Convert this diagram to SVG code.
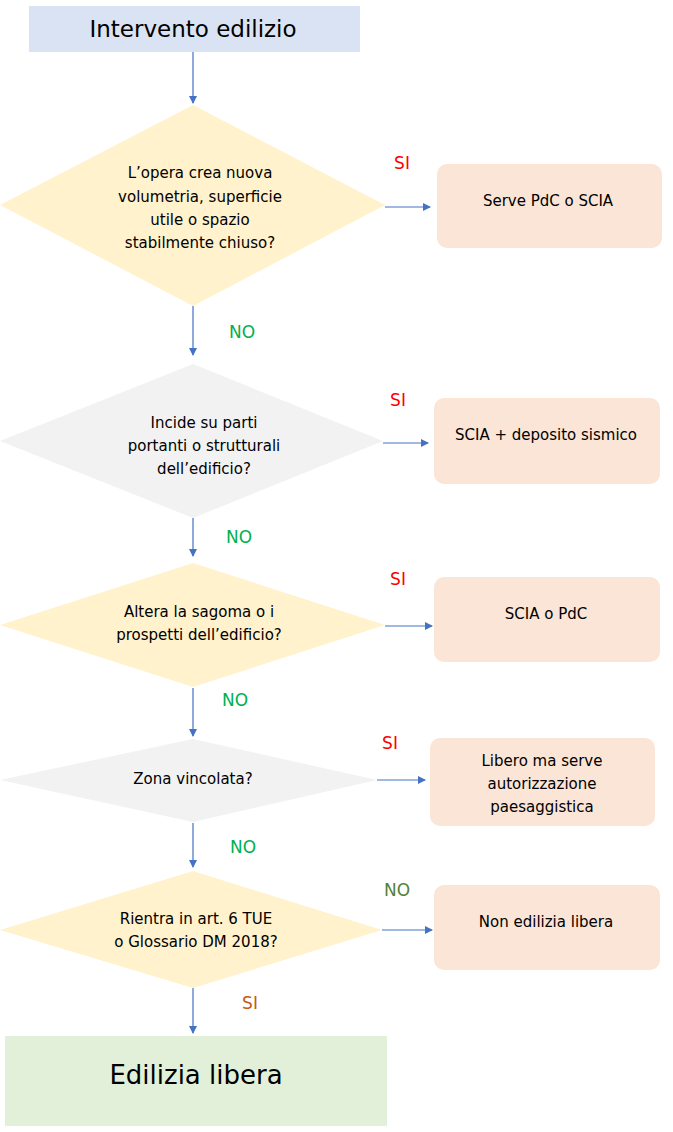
<svg xmlns="http://www.w3.org/2000/svg" width="673" height="1132" viewBox="0 0 673 1132">
<style>
text{font-family:"DejaVu Sans","Liberation Sans",sans-serif;text-anchor:middle;fill:#000}
.t{font-size:15px}
.y{fill:#fff2cc}.g{fill:#f2f2f2}
.b{fill:#fbe5d6}
.c{stroke:#4472c4;stroke-width:1.2;fill:none;marker-end:url(#a)}
.si{fill:#ff0000;font-size:17px}.no{fill:#00b050;font-size:17px}
</style>
<defs><marker id="a" markerWidth="8" markerHeight="8" refX="7" refY="4" orient="auto" markerUnits="userSpaceOnUse"><path d="M0,0L8,4L0,8z" fill="#4472c4"/></marker></defs>
<rect width="673" height="1132" fill="#fff"/>
<g id="connectors">
<path class="c" d="M193,52V103"/>
<path class="c" d="M385,207H430"/>
<path class="c" d="M193,306V355"/>
<path class="c" d="M383,443H428"/>
<path class="c" d="M193,518V556"/>
<path class="c" d="M385,626H432"/>
<path class="c" d="M193,688V736"/>
<path class="c" d="M377,780H425"/>
<path class="c" d="M193,823V867"/>
<path class="c" d="M382,930H432"/>
<path class="c" d="M193,988V1033"/>
<text class="si" x="402" y="169">SI</text>
<text class="no" x="242" y="338">NO</text>
<text class="si" x="398" y="406">SI</text>
<text class="no" x="239" y="543">NO</text>
<text class="si" x="398" y="585">SI</text>
<text class="no" x="235" y="706">NO</text>
<text class="si" x="390" y="749">SI</text>
<text class="no" x="243" y="853">NO</text>
<text x="397" y="896" style="font-size:17px;fill:#548235">NO</text>
<text x="250" y="1009" style="font-size:17px;fill:#c55a11">SI</text>
</g>
<g id="start"><rect x="29" y="6" width="331" height="46" fill="#dae3f3"/><text x="193" y="37" style="font-size:23px">Intervento edilizio</text></g>
<g id="d1"><polygon class="y" points="193,105 385,205 193,306 0,205"/>
<text class="t"><tspan x="200" y="178">L’opera crea nuova</tspan><tspan x="200" y="202">volumetria, superficie</tspan><tspan x="200" y="225">utile o spazio</tspan><tspan x="200" y="248">stabilmente chiuso?</tspan></text></g>
<g id="r1"><rect class="b" x="437" y="164" width="225" height="84" rx="10"/><text class="t" x="548" y="206">Serve PdC o SCIA</text></g>
<g id="d2"><polygon class="g" points="193,364 383,441 193,518 0,441"/>
<text class="t"><tspan x="204" y="428">Incide su parti</tspan><tspan x="204" y="451">portanti o strutturali</tspan><tspan x="204" y="474">dell’edificio?</tspan></text></g>
<g id="r2"><rect class="b" x="434" y="398" width="226" height="86" rx="10"/><text class="t" x="546" y="440">SCIA + deposito sismico</text></g>
<g id="d3"><polygon class="y" points="193,563 385,625 193,687 0,625"/>
<text class="t"><tspan x="199" y="617">Altera la sagoma o i</tspan><tspan x="199" y="640">prospetti dell’edificio?</tspan></text></g>
<g id="r3"><rect class="b" x="434" y="577" width="226" height="85" rx="10"/><text class="t" x="546" y="619">SCIA o PdC</text></g>
<g id="d4"><polygon class="g" points="193,739 377,780 193,822 0,780"/>
<text class="t" x="193" y="784">Zona vincolata?</text></g>
<g id="r4"><rect class="b" x="430" y="738" width="225" height="88" rx="10"/>
<text class="t"><tspan x="542" y="766">Libero ma serve</tspan><tspan x="542" y="789">autorizzazione</tspan><tspan x="542" y="812">paesaggistica</tspan></text></g>
<g id="d5"><polygon class="y" points="193,871 382,930 193,988 0,930"/>
<text class="t"><tspan x="196" y="924">Rientra in art. 6 TUE</tspan><tspan x="196" y="947">o Glossario DM 2018?</tspan></text></g>
<g id="r5"><rect class="b" x="434" y="885" width="226" height="85" rx="10"/><text class="t" x="546" y="927">Non edilizia libera</text></g>
<g id="end"><rect x="5" y="1036" width="382" height="90" fill="#e2f0d9"/><text x="196" y="1084" style="font-size:26px">Edilizia libera</text></g>
</svg>
